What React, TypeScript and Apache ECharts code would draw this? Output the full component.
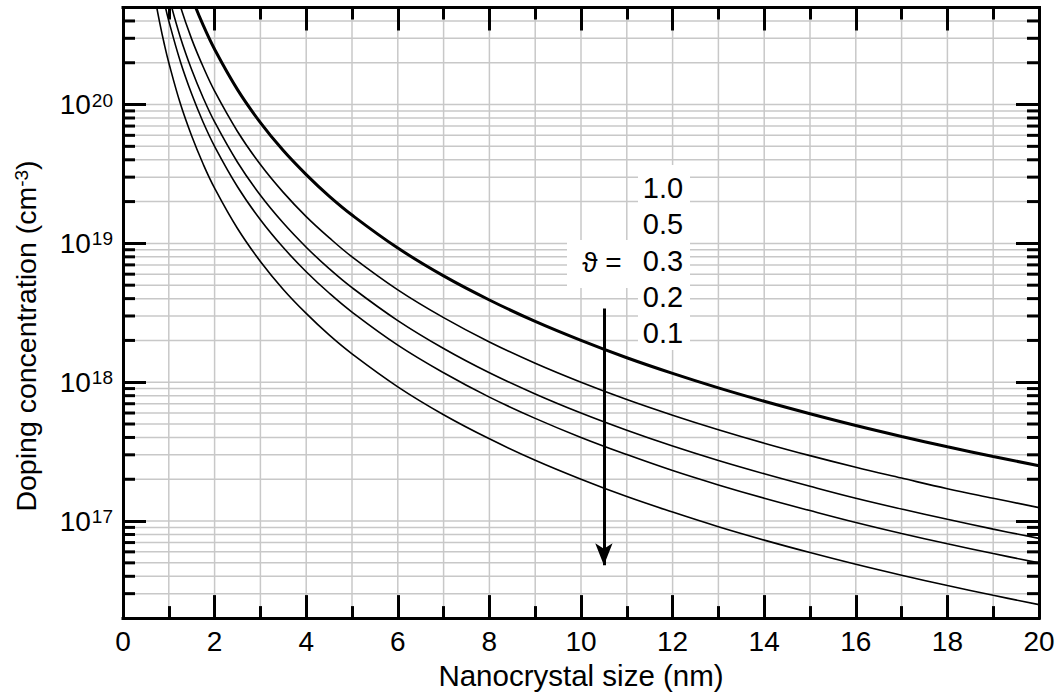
import React, { useEffect, useRef } from "react";
import * as echarts from "echarts";

// Nanocrystal size (nm)
const sizes = [0.6, 0.7, 0.8, 0.9, 1, 1.25, 1.5, 1.75, 2, 2.5, 3, 3.5, 4, 4.5, 5, 6, 7, 8, 9, 10, 11, 12, 13, 14, 15, 16, 17, 18, 19, 20];
// Doping concentration (cm^-3) for each theta
const theta10 = [9.26e21, 5.83e21, 3.91e21, 2.74e21, 2.0e21, 1.024e21, 5.93e20, 3.73e20, 2.5e20, 1.28e20, 7.41e19, 4.66e19, 3.13e19, 2.19e19, 1.6e19, 9.26e18, 5.83e18, 3.91e18, 2.74e18, 2.0e18, 1.5e18, 1.157e18, 9.1e17, 7.29e17, 5.93e17, 4.88e17, 4.07e17, 3.43e17, 2.92e17, 2.5e17];
const theta05 = [4.63e21, 2.92e21, 1.95e21, 1.37e21, 1.0e21, 5.12e20, 2.96e20, 1.87e20, 1.25e20, 6.4e19, 3.7e19, 2.33e19, 1.56e19, 1.1e19, 8.0e18, 4.63e18, 2.92e18, 1.95e18, 1.37e18, 1.0e18, 7.51e17, 5.79e17, 4.55e17, 3.64e17, 2.96e17, 2.44e17, 2.04e17, 1.71e17, 1.46e17, 1.25e17];
const theta03 = [2.78e21, 1.75e21, 1.17e21, 8.23e20, 6.0e20, 3.07e20, 1.78e20, 1.12e20, 7.5e19, 3.84e19, 2.22e19, 1.4e19, 9.38e18, 6.58e18, 4.8e18, 2.78e18, 1.75e18, 1.17e18, 8.23e17, 6.0e17, 4.51e17, 3.47e17, 2.73e17, 2.19e17, 1.78e17, 1.46e17, 1.22e17, 1.03e17, 8.75e16, 7.5e16];
const theta02 = [1.85e21, 1.17e21, 7.81e20, 5.49e20, 4.0e20, 2.05e20, 1.19e20, 7.46e19, 5.0e19, 2.56e19, 1.48e19, 9.33e18, 6.25e18, 4.39e18, 3.2e18, 1.85e18, 1.17e18, 7.81e17, 5.49e17, 4.0e17, 3.01e17, 2.31e17, 1.82e17, 1.46e17, 1.19e17, 9.77e16, 8.14e16, 6.86e16, 5.83e16, 5.0e16];
const theta01 = [9.26e20, 5.83e20, 3.91e20, 2.74e20, 2.0e20, 1.02e20, 5.93e19, 3.73e19, 2.5e19, 1.28e19, 7.41e18, 4.66e18, 3.13e18, 2.19e18, 1.6e18, 9.26e17, 5.83e17, 3.91e17, 2.74e17, 2.0e17, 1.5e17, 1.16e17, 9.1e16, 7.29e16, 5.93e16, 4.88e16, 4.07e16, 3.43e16, 2.92e16, 2.5e16];

const thetaLabels = ["1.0", "0.5", "0.3", "0.2", "0.1"];
const seriesValues = [theta10, theta05, theta03, theta02, theta01];

// axes
const xMin = 0;
const xMax = 20;
const xInterval = 2;
const xGridValues = [1, 2, 3, 4, 5, 6, 7, 8, 9, 10, 11, 12, 13, 14, 15, 16, 17, 18, 19];
const yMin = 2e16;
const yMax = 5e20;
const yDecades = [16, 17, 18, 19, 20];
const yMultipliers = [1, 2, 3, 4, 5, 6, 7, 8, 9];

// arrow (theta decreasing)
const arrowX = 10.5;
const arrowFrom = 3.4e18;
const arrowTo = 4.8e16;

const FONT = "'Liberation Sans', Arial, Helvetica, sans-serif";

export default function App() {
  const ref = useRef<HTMLDivElement>(null);

  useEffect(() => {
    document.body.style.margin = "0";
    if (!ref.current) return;
    const chart = echarts.init(ref.current, undefined, { renderer: "svg" });

    const yGridData: number[][] = [];
    yDecades.forEach((d) => {
      yMultipliers.forEach((m) => {
        const v = m * Math.pow(10, d);
        if (v > yMin * 1.0001 && v < yMax * 0.9999) yGridData.push([0, v, m === 1 ? 1 : 0]);
      });
    });

    const tickStyle = { color: "#000", width: 3 };
    const axisLineStyle = { color: "#000", width: 3, cap: "square" as const };

    const xAxisBase = {
      type: "value" as const,
      min: xMin,
      max: xMax,
      interval: xInterval,
      z: 5,
      axisLine: { show: true, onZero: false, lineStyle: axisLineStyle },
      axisTick: { show: true, inside: true, length: 23, lineStyle: tickStyle },
      minorTick: { show: true, splitNumber: 2, length: 12, lineStyle: tickStyle },
      splitLine: { show: false },
      minorSplitLine: { show: false },
    };

    const yAxisBase = {
      type: "log" as const,
      logBase: 10,
      min: yMin,
      max: yMax,
      z: 5,
      axisLine: { show: true, onZero: false, lineStyle: axisLineStyle },
      axisTick: { show: true, inside: true, length: 23, lineStyle: tickStyle },
      minorTick: { show: false },
      splitLine: { show: false },
      minorSplitLine: { show: false },
    };

    const isPow10 = (v: number) => {
      const l = Math.log10(v);
      return Math.abs(l - Math.round(l)) < 1e-6;
    };

    const curveSeries = seriesValues.map((vals, i) => ({
      type: "line" as const,
      name: thetaLabels[i],
      data: sizes.map((s, j) => [s, vals[j]]),
      showSymbol: false,
      symbol: "none",
      smooth: 0.4,
      z: 4,
      clip: true,
      lineStyle: { color: "#000", width: i === 0 ? 3 : 1.6 },
      silent: true,
      ...(i === seriesValues.length - 1
        ? {
            markLine: {
              silent: true,
              symbol: ["none", "arrow"],
              symbolSize: [13, 22],
              label: { show: false },
              lineStyle: { color: "#000", width: 3, type: "solid" },
              data: [[{ coord: [arrowX, arrowFrom] }, { coord: [arrowX, arrowTo] }]],
            },
          }
        : {}),
    }));

    const legendTop = 188;
    const legendStep = 36.3;

    chart.setOption({
      animation: false,
      backgroundColor: "#fff",
      textStyle: { fontFamily: FONT },
      grid: { left: 123, top: 7.5, width: 916, height: 613.5, containLabel: false },
      xAxis: [
        {
          ...xAxisBase,
          position: "bottom",
          axisLabel: { show: true, color: "#000", fontSize: 28, lineHeight: 28, margin: 9, fontFamily: FONT },
          name: "Nanocrystal size (nm)",
          nameLocation: "middle",
          nameGap: 40,
          nameTextStyle: { color: "#000", fontSize: 29.5, lineHeight: 29.5, fontFamily: FONT },
        },
        {
          ...xAxisBase,
          position: "top",
          axisLabel: { show: false },
        },
      ],
      yAxis: [
        {
          ...yAxisBase,
          position: "left",
          axisLabel: {
            show: true,
            margin: 10,
            color: "#000",
            formatter: (v: number) => (isPow10(v) ? `{b|10}{s|${Math.round(Math.log10(v))}}` : ""),
            rich: {
              b: { fontSize: 28, lineHeight: 28, verticalAlign: "bottom", color: "#000", fontFamily: FONT },
              s: { fontSize: 19, lineHeight: 19, verticalAlign: "top", padding: [0, 0, 13, 1], color: "#000", fontFamily: FONT },
            },
          },
        },
        {
          ...yAxisBase,
          position: "right",
          axisLabel: { show: false },
        },
      ],
      graphic: [
        {
          type: "rect",
          z: 2,
          shape: { x: 638, y: 165, width: 52, height: 185 },
          style: { fill: "#fff" },
          silent: true,
        },
        {
          type: "rect",
          z: 2,
          shape: { x: 567, y: 240, width: 72, height: 48 },
          style: { fill: "#fff" },
          silent: true,
        },
        ...thetaLabels.map((t, i) => ({
          type: "text",
          z: 3,
          x: 663,
          y: legendTop + i * legendStep,
          style: { text: t, fontSize: 29, fontFamily: FONT, fill: "#000", align: "center", verticalAlign: "middle" },
          silent: true,
        })),
        {
          type: "text",
          z: 3,
          x: 602,
          y: 262,
          style: { text: "\u03D1 =", fontSize: 28, fontFamily: FONT, fill: "#000", align: "center", verticalAlign: "middle" },
          silent: true,
        },
        {
          type: "text",
          z: 3,
          x: 26,
          y: 336,
          rotation: Math.PI / 2,
          style: {
            text: "{a|Doping concentration (cm}{s|-3}{a|)}",
            align: "center",
            verticalAlign: "middle",
            fill: "#000",
            rich: {
              a: { fontSize: 28.5, lineHeight: 28.5, verticalAlign: "bottom", fontFamily: FONT, fill: "#000" },
              s: { fontSize: 19, lineHeight: 19, verticalAlign: "top", padding: [0, 0, 14, 0], fontFamily: FONT, fill: "#000" },
            },
          },
          silent: true,
        },
      ],
      series: [
        {
          type: "custom",
          name: "ygrid",
          z: 1,
          silent: true,
          xAxisIndex: 0,
          yAxisIndex: 0,
          encode: { x: 0, y: 1 },
          data: yGridData,
          renderItem: (params: any, api: any) => {
            const v = api.value(1);
            const major = api.value(2) === 1;
            const y = api.coord([0, v])[1];
            const cs = params.coordSys;
            const x0 = cs.x;
            const x1 = cs.x + cs.width;
            const children: any[] = [
              { type: "line", shape: { x1: x0 + 1.5, y1: y, x2: x1 - 1.5, y2: y }, style: { stroke: "#c8c8c8", lineWidth: 1.5 } },
            ];
            if (!major) {
              children.push({ type: "line", shape: { x1: x0, y1: y, x2: x0 + 12, y2: y }, style: { stroke: "#000", lineWidth: 3 } });
              children.push({ type: "line", shape: { x1: x1 - 12, y1: y, x2: x1, y2: y }, style: { stroke: "#000", lineWidth: 3 } });
            }
            return { type: "group", children };
          },
        },
        {
          type: "custom",
          name: "xgrid",
          z: 1,
          silent: true,
          xAxisIndex: 0,
          yAxisIndex: 0,
          encode: { x: 0, y: 1 },
          data: xGridValues.map((x) => [x, 1e18]),
          renderItem: (params: any, api: any) => {
            const x = api.coord([api.value(0), 1e18])[0];
            const cs = params.coordSys;
            return {
              type: "line",
              shape: { x1: x, y1: cs.y + 1.5, x2: x, y2: cs.y + cs.height - 1.5 },
              style: { stroke: "#c8c8c8", lineWidth: 1.5 },
            };
          },
        },
        ...curveSeries,
      ],
    });

    return () => {
      chart.dispose();
    };
  }, []);

  return <div ref={ref} style={{ width: 1059, height: 695 }} />;
}
